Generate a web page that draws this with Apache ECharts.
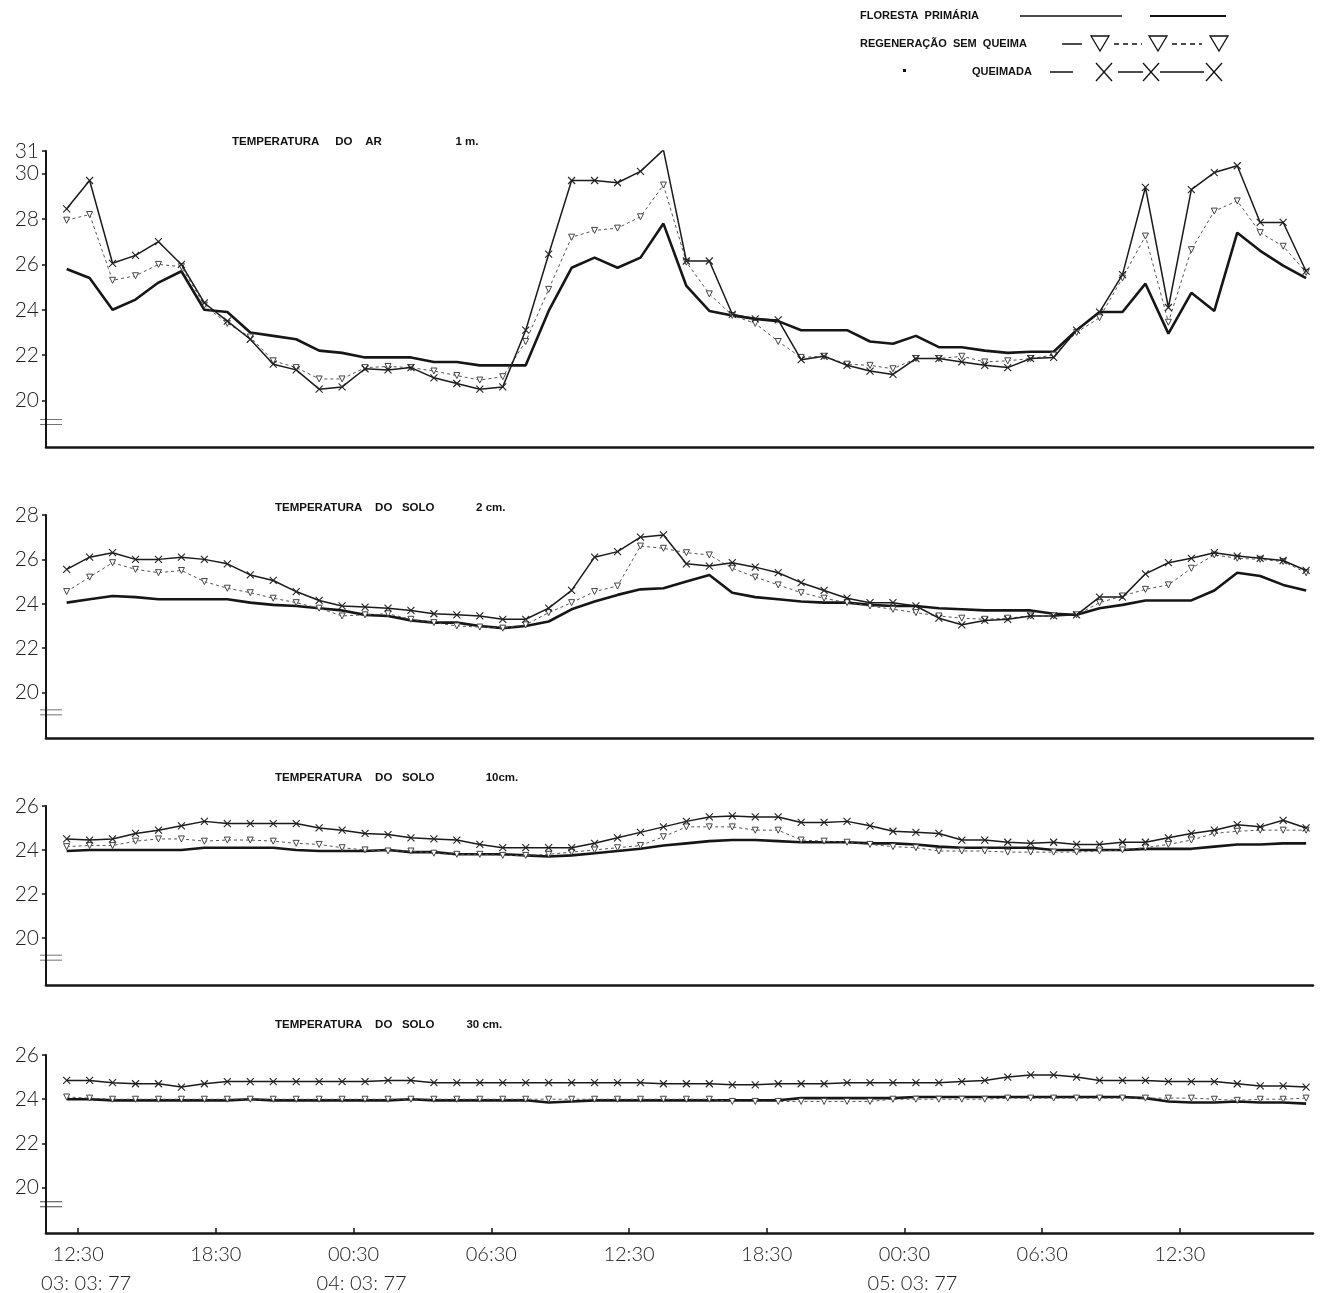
<!DOCTYPE html>
<html><head><meta charset="utf-8">
<script src="https://cdn.jsdelivr.net/npm/echarts@6/dist/echarts.min.js"></script>
<style>html,body{margin:0;padding:0;background:#fff}#c{width:1323px;height:1293px}</style>
</head><body><div id="c"></div>
<script>
// ---------- DATA ----------
const seriesNames = ['FLORESTA PRIMÁRIA', 'REGENERAÇÃO SEM QUEIMA', 'QUEIMADA'];
const panelTitles = [
  'TEMPERATURA     DO    AR                       1 m.',
  'TEMPERATURA    DO   SOLO             2 cm.',
  'TEMPERATURA    DO   SOLO                10cm.',
  'TEMPERATURA    DO   SOLO          30 cm.'
];
// hourly readings, hour 0 = 12:00 of 03.03.77
const hours = Array.from({length: 55}, (_, i) => i);
const tickHours = [0.5, 6.5, 12.5, 18.5, 24.5, 30.5, 36.5, 42.5, 48.5];
const tickLabels = ['12:30', '18:30', '00:30', '06:30', '12:30', '18:30', '00:30', '06:30', '12:30'];
const dateLabels = ['03: 03: 77', '', '04: 03: 77', '', '', '', '05: 03: 77', '', ''];
const yTicks1 = [20, 22, 24, 26, 28, 30, 31];
const yTicks2 = [20, 22, 24, 26, 28];
const yTicks3 = [20, 22, 24, 26];
const yTicks4 = [20, 22, 24, 26];
const breakAt = [19.05, 19.1, 19.1, 19.25];

// Temperatura do ar 1 m
const floresta1 = [25.8, 25.4, 24.0, 24.45, 25.2, 25.7, 24.0, 23.9, 23.0, 22.85, 22.7, 22.2, 22.1, 21.9, 21.9, 21.9, 21.7, 21.7, 21.55, 21.55, 21.55, 23.95, 25.85, 26.3, 25.85, 26.3,
  27.8, 25.05, 23.95, 23.75, 23.6, 23.5, 23.1, 23.1, 23.1, 22.6, 22.5, 22.85, 22.35, 22.35, 22.2, 22.1, 22.15, 22.15, 23.1, 23.9, 23.9, 25.15, 22.95, 24.75, 23.95, 27.4, 26.6, 25.95, 25.4];
const regeneracao1 = [27.95, 28.2, 25.3, 25.5, 26.0, 25.9, 24.2, 23.4, 22.8, 21.75, 21.45, 20.95, 20.95, 21.45, 21.5, 21.45, 21.3, 21.1, 20.9, 21.05, 22.6, 24.9, 27.2, 27.5, 27.6, 28.1,
  29.5, 26.1, 24.7, 23.75, 23.4, 22.6, 21.9, 21.95, 21.6, 21.55, 21.4, 21.85, 21.85, 21.95, 21.7, 21.75, 21.85, 22.0, 23.0, 23.65, 25.4, 27.25, 23.45, 26.65, 28.35, 28.8, 27.4, 26.8, 25.65];
const queimada1 = [28.45, 29.7, 26.05, 26.4, 27.0, 26.0, 24.3, 23.5, 22.7, 21.6, 21.35, 20.5, 20.6, 21.4, 21.35, 21.45, 21.0, 20.75, 20.5, 20.6, 23.1, 26.45, 29.7, 29.7, 29.6, 30.1,
  31.05, 26.15, 26.15, 23.8, 23.6, 23.55, 21.8, 21.95, 21.55, 21.3, 21.15, 21.85, 21.85, 21.7, 21.55, 21.45, 21.85, 21.9, 23.1, 23.9, 25.55, 29.4, 24.1, 29.3, 30.05, 30.35, 27.85, 27.85, 25.7];

// Temperatura do solo 2 cm
const floresta2 = [24.05, 24.2, 24.35, 24.3, 24.2, 24.2, 24.2, 24.2, 24.05, 23.95, 23.9, 23.8, 23.7, 23.5, 23.45, 23.25, 23.15, 23.15, 23.0, 22.9, 23.0, 23.2, 23.75, 24.1, 24.4, 24.65,
  24.7, 25.0, 25.3, 24.5, 24.3, 24.2, 24.1, 24.05, 24.05, 23.95, 23.9, 23.9, 23.8, 23.75, 23.7, 23.7, 23.7, 23.55, 23.5, 23.8, 23.95, 24.15, 24.15, 24.15, 24.6, 25.4, 25.25, 24.85, 24.6];
const regeneracao2 = [24.55, 25.2, 25.85, 25.55, 25.4, 25.5, 25.0, 24.7, 24.5, 24.25, 24.05, 23.8, 23.45, 23.5, 23.55, 23.3, 23.15, 23.0, 22.95, 22.9, 23.05, 23.6, 24.05, 24.55, 24.8, 26.6,
  26.5, 26.3, 26.2, 25.6, 25.2, 24.85, 24.5, 24.25, 24.05, 23.9, 23.75, 23.6, 23.45, 23.35, 23.3, 23.35, 23.45, 23.45, 23.5, 24.05, 24.35, 24.65, 24.85, 25.6, 26.2, 26.05, 26.0, 25.9, 25.4];
const queimada2 = [25.55, 26.1, 26.3, 26.0, 26.0, 26.1, 26.0, 25.8, 25.3, 25.05, 24.55, 24.15, 23.9, 23.85, 23.8, 23.7, 23.55, 23.5, 23.45, 23.3, 23.3, 23.8, 24.6, 26.1, 26.35, 27.0,
  27.1, 25.8, 25.7, 25.85, 25.65, 25.4, 24.95, 24.6, 24.25, 24.05, 24.05, 23.9, 23.35, 23.05, 23.25, 23.3, 23.45, 23.45, 23.5, 24.3, 24.3, 25.35, 25.85, 26.05, 26.3, 26.15, 26.05, 25.95, 25.5];

// Temperatura do solo 10 cm
const floresta3 = [23.95, 24.0, 24.0, 24.0, 24.0, 24.0, 24.1, 24.1, 24.1, 24.1, 24.0, 23.95, 23.95, 23.95, 24.0, 23.9, 23.9, 23.8, 23.8, 23.8, 23.75, 23.7, 23.75, 23.85, 23.95, 24.05,
  24.2, 24.3, 24.4, 24.45, 24.45, 24.4, 24.35, 24.35, 24.35, 24.3, 24.3, 24.25, 24.15, 24.1, 24.1, 24.1, 24.1, 24.0, 24.0, 24.0, 24.0, 24.05, 24.05, 24.05, 24.15, 24.25, 24.25, 24.3, 24.3];
const regeneracao3 = [24.15, 24.2, 24.2, 24.4, 24.5, 24.5, 24.4, 24.45, 24.45, 24.4, 24.3, 24.25, 24.1, 24.0, 23.95, 23.95, 23.85, 23.8, 23.8, 23.75, 23.75, 23.8, 23.9, 24.0, 24.1, 24.2,
  24.6, 25.05, 25.05, 25.05, 24.9, 24.9, 24.45, 24.4, 24.35, 24.25, 24.15, 24.1, 23.95, 23.95, 23.95, 23.9, 23.9, 23.9, 23.9, 23.95, 24.0, 24.1, 24.25, 24.45, 24.75, 24.85, 24.9, 24.9, 24.9];
const queimada3 = [24.5, 24.45, 24.5, 24.75, 24.9, 25.1, 25.3, 25.2, 25.2, 25.2, 25.2, 25.0, 24.9, 24.75, 24.7, 24.55, 24.5, 24.45, 24.25, 24.1, 24.1, 24.1, 24.1, 24.3, 24.55, 24.8,
  25.05, 25.3, 25.5, 25.55, 25.5, 25.5, 25.25, 25.25, 25.3, 25.1, 24.85, 24.8, 24.75, 24.45, 24.45, 24.35, 24.3, 24.35, 24.25, 24.25, 24.35, 24.35, 24.55, 24.75, 24.9, 25.15, 25.05, 25.35, 25.0];

// Temperatura do solo 30 cm
const floresta4 = [24.0, 24.0, 23.95, 23.95, 23.95, 23.95, 23.95, 23.95, 24.0, 23.95, 23.95, 23.95, 23.95, 23.95, 23.95, 24.0, 23.95, 23.95, 23.95, 23.95, 23.95, 23.85, 23.9, 23.95, 23.95, 23.95,
  23.95, 23.95, 23.95, 23.95, 23.95, 23.95, 24.05, 24.05, 24.05, 24.05, 24.05, 24.1, 24.1, 24.1, 24.1, 24.1, 24.1, 24.1, 24.1, 24.1, 24.1, 24.05, 23.9, 23.85, 23.85, 23.9, 23.85, 23.85, 23.8];
const regeneracao4 = [24.1, 24.05, 24.0, 24.0, 24.0, 24.0, 24.0, 24.0, 24.0, 24.0, 24.0, 24.0, 24.0, 24.0, 24.0, 24.0, 24.0, 24.0, 24.0, 24.0, 24.0, 24.0, 24.0, 24.0, 24.0, 24.0,
  24.0, 24.0, 24.0, 23.9, 23.9, 23.9, 23.9, 23.9, 23.9, 23.9, 24.0, 24.0, 24.0, 24.0, 24.0, 24.05, 24.05, 24.05, 24.05, 24.05, 24.05, 24.05, 24.05, 24.05, 24.0, 23.95, 24.0, 24.0, 24.05];
const queimada4 = [24.85, 24.85, 24.75, 24.7, 24.7, 24.55, 24.7, 24.8, 24.8, 24.8, 24.8, 24.8, 24.8, 24.8, 24.85, 24.85, 24.75, 24.75, 24.75, 24.75, 24.75, 24.75, 24.75, 24.75, 24.75, 24.75,
  24.7, 24.7, 24.7, 24.65, 24.65, 24.7, 24.7, 24.7, 24.75, 24.75, 24.75, 24.75, 24.75, 24.8, 24.85, 25.0, 25.1, 25.1, 25.0, 24.85, 24.85, 24.85, 24.8, 24.8, 24.8, 24.7, 24.6, 24.6, 24.55];

// ---------- CHART ----------
const panels = [
  {f: floresta1, r: regeneracao1, q: queimada1, ticks: yTicks1},
  {f: floresta2, r: regeneracao2, q: queimada2, ticks: yTicks2},
  {f: floresta3, r: regeneracao3, q: queimada3, ticks: yTicks3},
  {f: floresta4, r: regeneracao4, q: queimada4, ticks: yTicks4}
];
const layout = [
  {top: 151, height: 296, min: 17.95, max: 31, titleLeft: 232, titleTop: 136},
  {top: 515, height: 223, min: 17.95, max: 28, titleLeft: 275, titleTop: 502},
  {top: 806, height: 179, min: 17.85, max: 26, titleLeft: 275, titleTop: 772},
  {top: 1055, height: 178, min: 17.95, max: 26, titleLeft: 275, titleTop: 1019}
];
const INK = '#161616';
const NUMFONT = 'Lato';
const pair = arr => arr.map((v, i) => [hours[i], v]);

const grid = [], xAxis = [], yAxis = [], series = [], title = [];
panels.forEach((p, k) => {
  const L = layout[k];
  grid.push({left: 46, right: 10, top: L.top, height: L.height, outerBoundsMode: 'none', containLabel: false});
  const last = k === panels.length - 1;
  xAxis.push({
    type: 'value', gridIndex: k, min: -0.9, max: 54.3,
    axisLine: {show: true, onZero: false, lineStyle: {color: INK, width: 2.6}},
    splitLine: {show: false},
    axisTick: last ? {show: true, inside: true, length: 5, customValues: tickHours, lineStyle: {color: INK, width: 1.5}} : {show: false},
    axisLabel: last ? {
      show: true, customValues: tickHours, margin: 7,
      fontFamily: NUMFONT, fontWeight: 300, fontSize: 20, color: '#222', lineHeight: 29,
      formatter: v => {
        const idx = tickHours.indexOf(v);
        if (idx < 0) return '';
        return tickLabels[idx] + (dateLabels[idx] ? '\n{d|' + dateLabels[idx] + '}' : '');
      },
      rich: {d: {fontFamily: NUMFONT, fontWeight: 300, fontSize: 20, color: '#222', lineHeight: 29, padding: [0, 0, 0, 16]}}
    } : {show: false}
  });
  yAxis.push({
    type: 'value', gridIndex: k, min: L.min, max: L.max,
    axisLine: {show: true, onZero: false, lineStyle: {color: INK, width: 2}},
    splitLine: {show: false},
    axisTick: {show: true, length: 4, customValues: p.ticks, lineStyle: {color: INK, width: 1.5}},
    axisLabel: {show: true, customValues: p.ticks, margin: 7, showMaxLabel: true, showMinLabel: true,
      fontFamily: NUMFONT, fontWeight: 300, fontSize: 21, color: '#222'}
  });
  title.push({
    text: panelTitles[k], left: L.titleLeft, top: L.titleTop, padding: 0,
    textStyle: {fontFamily: 'Liberation Sans', fontWeight: 'bold', fontSize: 11.5, color: '#111'}
  });
  series.push({
    name: seriesNames[0], type: 'line', xAxisIndex: k, yAxisIndex: k,
    data: pair(p.f), symbol: 'none', z: 3,
    lineStyle: {color: INK, width: 2.6}
  });
  series.push({
    name: seriesNames[1], type: 'line', xAxisIndex: k, yAxisIndex: k,
    data: pair(p.r), symbol: 'triangle', symbolRotate: 180, symbolSize: 6, z: 4,
    itemStyle: {color: '#fff', borderColor: '#444', borderWidth: 1},
    lineStyle: {color: '#555', width: 1, type: [3, 3]}
  });
  series.push({
    name: seriesNames[2], type: 'line', xAxisIndex: k, yAxisIndex: k,
    data: pair(p.q), symbol: 'path://M0,0L10,10M10,0L0,10', symbolSize: 7, z: 5,
    itemStyle: {color: '#222', borderColor: '#222', borderWidth: 1.1},
    lineStyle: {color: '#1a1a1a', width: 1.5}
  });
  series.push({
    type: 'scatter', xAxisIndex: k, yAxisIndex: k, clip: false, silent: true,
    data: [[-0.9, breakAt[k]]],
    symbol: 'path://M0,0L22,0M0,5L22,5', symbolSize: [22, 5], symbolOffset: [5, 0], z: 6,
    itemStyle: {color: 'none', borderColor: INK, borderWidth: 1.6}
  });
});

// legend drawn as a small key in the top-right corner
const legFont = {fontFamily: 'Liberation Sans', fontWeight: 'bold', fontSize: 11, fill: '#111'};
const ln = (x1, y1, x2, y2, w, dash) => ({type: 'line', shape: {x1, y1, x2, y2},
  style: {stroke: '#111', lineWidth: w, lineDash: dash || null}});
const tri = (cx, cy) => ({type: 'polygon', shape: {points: [[cx - 9, cy - 7], [cx + 9, cy - 7], [cx, cy + 8]]},
  style: {fill: 'none', stroke: '#111', lineWidth: 1.3}});
const cross = (cx, cy) => ({type: 'group', children: [ln(cx - 8, cy - 9, cx + 8, cy + 9, 1.3), ln(cx + 8, cy - 9, cx - 8, cy + 9, 1.3)]});
const graphic = [
  {type: 'text', left: 860, top: 10, style: Object.assign({text: 'FLORESTA  PRIMÁRIA'}, legFont)},
  ln(1020, 16, 1122, 16, 1.3), ln(1150, 16, 1226, 16, 2),
  {type: 'text', left: 860, top: 38, style: Object.assign({text: 'REGENERAÇÃO  SEM  QUEIMA'}, legFont)},
  ln(1062, 44, 1082, 44, 1.5), tri(1100, 43), ln(1114, 44, 1142, 44, 1.3, [5, 4]), tri(1158, 43), ln(1172, 44, 1202, 44, 1.3, [5, 4]), tri(1219, 43),
  {type: 'rect', shape: {x: 903, y: 69, width: 3, height: 3}, style: {fill: '#111'}},
  {type: 'text', left: 972, top: 66, style: Object.assign({text: 'QUEIMADA'}, legFont)},
  ln(1050, 72, 1073, 72, 1.5), cross(1104, 72), ln(1118, 72, 1143, 72, 1.5), cross(1151, 72), ln(1160, 72, 1204, 72, 1.5), cross(1214, 72)
];

const chart = echarts.init(document.getElementById('c'), null, {renderer: 'canvas'});
chart.setOption({
  backgroundColor: '#fff', animation: false,
  title, grid, xAxis, yAxis, series, graphic
});
</script>
</body></html>
